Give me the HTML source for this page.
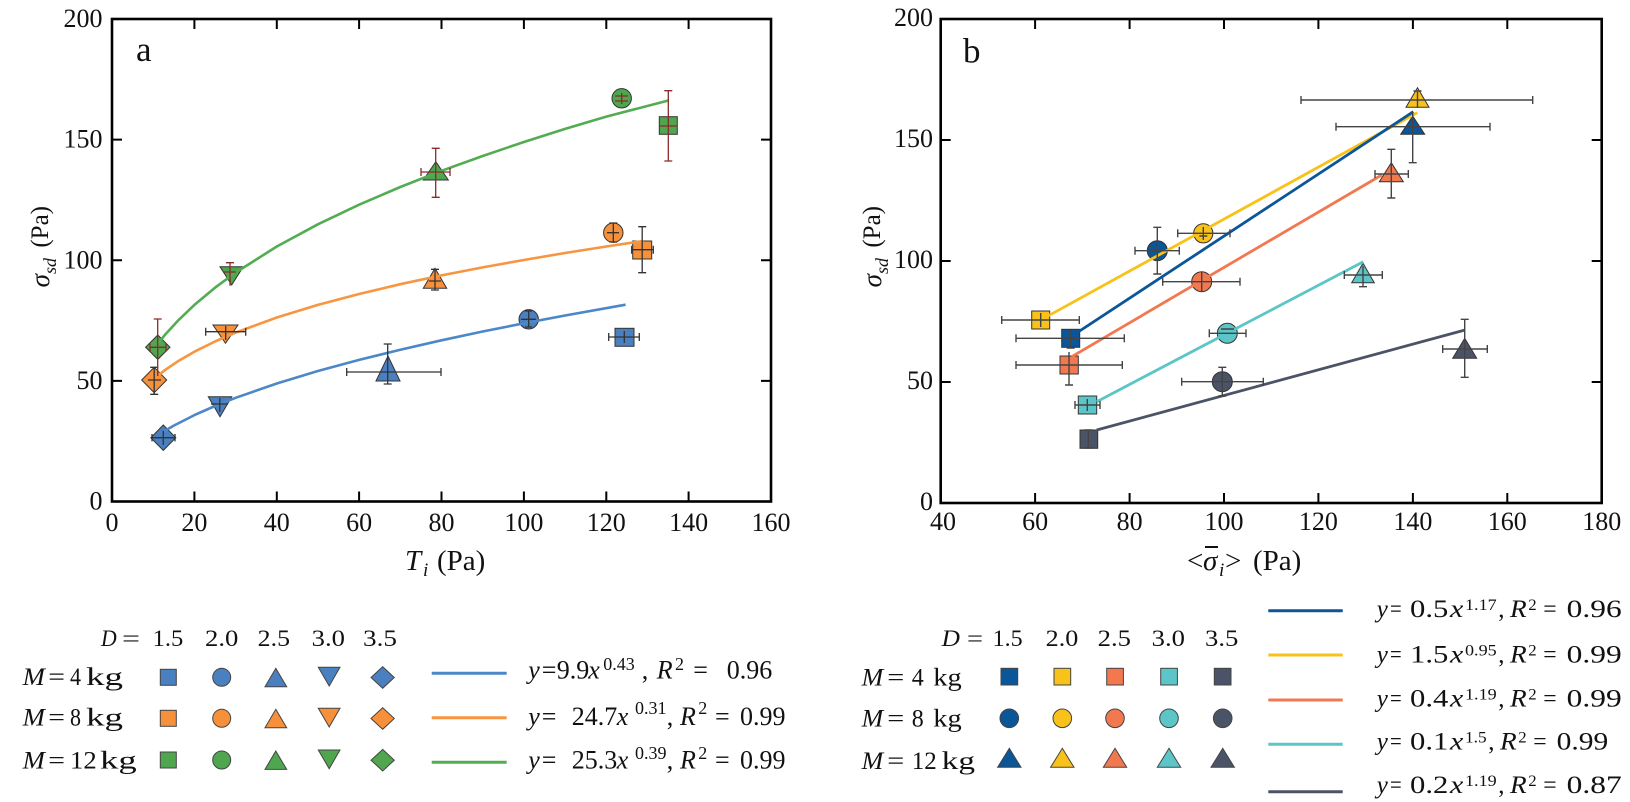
<!DOCTYPE html>
<html><head><meta charset="utf-8"><style>
html,body{margin:0;padding:0;background:#fff;}
svg{display:block;}
text{font-family:"Liberation Serif","DejaVu Serif",serif;fill:#111;}
.i{font-style:italic;}
</style></head><body>
<svg width="1630" height="802" viewBox="0 0 1630 802" xmlns="http://www.w3.org/2000/svg">
<rect width="1630" height="802" fill="#fff"/>

<!-- ================= LEFT PANEL ================= -->
<g stroke="#000" stroke-width="2" fill="none">
<path d="M194.4 501.5V491.5M276.8 501.5V491.5M359.1 501.5V491.5M441.5 501.5V491.5M523.9 501.5V491.5M606.3 501.5V491.5M688.6 501.5V491.5"/>
<path d="M194.4 19V29M276.8 19V29M359.1 19V29M441.5 19V29M523.9 19V29M606.3 19V29M688.6 19V29"/>
<path d="M112 380.9H122M112 260.3H122M112 139.6H122"/>
<path d="M771 380.9H761M771 260.3H761M771 139.6H761"/>
</g>
<rect x="112" y="19" width="659" height="482.5" fill="none" stroke="#000" stroke-width="2.6"/>
<g font-size="26" text-anchor="end">
<text x="102.5" y="509.5">0</text>
<text x="102.5" y="389">50</text>
<text x="102.5" y="268.3">100</text>
<text x="102.5" y="147.6">150</text>
<text x="102.5" y="27">200</text>
</g>
<g font-size="26" text-anchor="middle">
<text x="112" y="531">0</text>
<text x="194.4" y="531">20</text>
<text x="276.8" y="531">40</text>
<text x="359.1" y="531">60</text>
<text x="441.5" y="531">80</text>
<text x="523.9" y="531">100</text>
<text x="606.3" y="531">120</text>
<text x="688.6" y="531">140</text>
<text x="771" y="531">160</text>
</g>
<text x="136" y="61" font-size="35">a</text>
<text x="405" y="570" font-size="29" class="i">T</text>
<text x="423" y="576" font-size="19" class="i">i</text>
<text x="437" y="570" font-size="29">(Pa)</text>
<text transform="translate(48,206) rotate(-90)" text-anchor="end" font-size="25">(Pa)</text>
<text transform="translate(49,258) rotate(-90)" text-anchor="end" font-size="27"><tspan class="i">σ</tspan><tspan class="i" font-size="18" dy="7">sd</tspan></text>

<!-- left markers -->
<g stroke="#333" stroke-width="1">
<polygon points="163.3,425 175.8,437.7 163.3,450.4 150.8,437.7" fill="#4a7fc0"/>
<polygon points="208.3,396.7 231.7,396.7 220,416.7" fill="#4a7fc0"/>
<polygon points="388,356 400,381 376,381" fill="#4a7fc0"/>
<circle cx="528.7" cy="319.3" r="9.7" fill="#4a7fc0"/>
<rect x="615" y="328.3" width="19" height="18" fill="#4a7fc0"/>
<polygon points="154.2,367.3 166.7,380 154.2,392.7 141.7,380" fill="#f7903a"/>
<polygon points="213,325 238,325 225.5,343.3" fill="#f7903a"/>
<polygon points="435,268.3 446.7,288.3 423.3,288.3" fill="#f7903a"/>
<circle cx="613.3" cy="232.7" r="9.7" fill="#f7903a"/>
<rect x="632.7" y="241" width="19" height="18" fill="#f7903a"/>
<polygon points="157.8,335 170,347.2 157.8,359.4 145.6,347.2" fill="#4fa64f"/>
<polygon points="220,266.7 243.3,266.7 231.7,285" fill="#4fa64f"/>
<polygon points="435.8,161.7 448.3,180 423.3,180" fill="#4fa64f"/>
<circle cx="621.7" cy="98.3" r="9.7" fill="#4fa64f"/>
<rect x="659.3" y="116.7" width="18" height="17.6" fill="#4fa64f"/>
</g>

<!-- left curves -->
<g fill="none" stroke-width="2.6" stroke-linejoin="round">
<polyline stroke="#4c87c8" points="164.3,431.1 173.8,425.6 194.4,415.1 215.0,406.0 235.6,397.8 276.8,383.5 317.9,371.0 359.1,359.9 400.3,349.7 441.5,340.3 482.7,331.5 523.9,323.3 565.1,315.5 625.6,304.7"/>
<polyline stroke="#f89540" points="156.5,376.8 165.5,369.7 177.9,361.3 194.4,351.7 215.0,341.5 235.6,332.6 276.8,317.5 317.9,304.9 359.1,294.0 400.3,284.2 441.5,275.4 482.7,267.4 523.9,260.0 565.1,253.0 606.3,246.5 643.3,241.0"/>
<polyline stroke="#52ad52" points="157.7,343.8 165.5,334.2 177.9,320.7 194.4,304.9 215.0,287.7 235.6,272.6 276.8,246.5 317.9,224.3 359.1,204.7 400.3,187.0 441.5,170.8 482.7,156.0 523.9,142.0 565.1,128.9 606.3,116.6 668.4,100.5"/>
</g>

<!-- left error bars -->
<g fill="none" stroke="#333" stroke-width="1.3">
<path d="M152 437.7H175M152 434V441.4M175 434V441.4M163.3 431V445"/>
<path d="M211 404H228M219.8 398V412"/>
<path d="M346.7 372H441M346.7 368V376M441 368V376M387.7 344V384M383.7 344H391.7M383.7 384H391.7"/>
<path d="M521 319.3H536M528.7 311V327M525 311H532M525 327H532"/>
<path d="M608.7 337H639.3M608.7 333V341M639.3 333V341M624.3 331V343"/>
<path d="M148 380H161M154.2 367.3V394.3M150.2 367.3H158.2M150.2 394.3H158.2"/>
<path d="M205.7 331.7H245.7M205.7 327.7V335.7M245.7 327.7V335.7M225.7 326V340"/>
<path d="M429 281H441M435 269.3V290M431 269.3H439M431 290H439"/>
<path d="M607 232.7H619M613.3 223V242M609.3 223H617.3M609.3 242H617.3"/>
<path d="M642.2 226.7V272.7M638.2 226.7H646.2M638.2 272.7H646.2M631.7 249.7H653.3M631.7 245.7V253.7M653.3 245.7V253.7"/>
</g>
<g fill="none" stroke="#8b2a2a" stroke-width="1.3">
<path d="M157.7 319V376M153.7 319H161.7M150 347.3H166M150 343.3V351.3M166 343.3V351.3"/>
<path d="M230 262.7V285.7M226 262.7H234M224 272H236"/>
<path d="M435.7 148.3V197.3M431.7 148.3H439.7M431.7 197.3H439.7M421 172H450M421 168V176M450 168V176"/>
<path d="M615 96H628M615 101H628M621.7 93V104"/>
<path d="M668.3 90.7V161M664.3 90.7H672.3M664.3 161H672.3M660 126H677"/>
</g>

<!-- ================= RIGHT PANEL ================= -->
<g stroke="#000" stroke-width="2" fill="none">
<path d="M1035.1 503V493M1129.6 503V493M1224 503V493M1318.4 503V493M1412.9 503V493M1507.3 503V493"/>
<path d="M1035.1 19V29M1129.6 19V29M1224 19V29M1318.4 19V29M1412.9 19V29M1507.3 19V29"/>
<path d="M940.7 382H950.7M940.7 261H950.7M940.7 140H950.7"/>
<path d="M1601.7 382H1591.7M1601.7 261H1591.7M1601.7 140H1591.7"/>
</g>
<rect x="940.7" y="19" width="661" height="484" fill="none" stroke="#000" stroke-width="2.6"/>
<g font-size="26" text-anchor="end">
<text x="933" y="510">0</text>
<text x="933" y="389">50</text>
<text x="933" y="268">100</text>
<text x="933" y="147">150</text>
<text x="933" y="26">200</text>
</g>
<g font-size="26" text-anchor="middle">
<text x="943" y="530">40</text>
<text x="1035.1" y="530">60</text>
<text x="1129.6" y="530">80</text>
<text x="1224" y="530">100</text>
<text x="1318.4" y="530">120</text>
<text x="1412.9" y="530">140</text>
<text x="1507.3" y="530">160</text>
<text x="1601.7" y="530">180</text>
</g>
<text x="963" y="62.5" font-size="35">b</text>
<text x="1187" y="570" font-size="29">&lt;</text>
<text x="1203" y="570" font-size="29" class="i">σ</text>
<line x1="1205" y1="547" x2="1218" y2="547" stroke="#111" stroke-width="2"/>
<text x="1219" y="576" font-size="19" class="i">i</text>
<text x="1225" y="570" font-size="29">&gt;</text>
<text x="1253" y="570" font-size="29">(Pa)</text>
<text transform="translate(880,206) rotate(-90)" text-anchor="end" font-size="25">(Pa)</text>
<text transform="translate(881,258) rotate(-90)" text-anchor="end" font-size="27"><tspan class="i">σ</tspan><tspan class="i" font-size="18" dy="7">sd</tspan></text>

<!-- right markers -->
<g stroke="#333" stroke-width="1">
<rect x="1031.7" y="311" width="18" height="18" fill="#f8c21a"/>
<rect x="1061.7" y="329.3" width="18" height="18" fill="#0b5599"/>
<rect x="1060" y="356" width="18.3" height="18" fill="#f27850"/>
<rect x="1078.3" y="396" width="18.4" height="18" fill="#5cc5c7"/>
<rect x="1080" y="430" width="17.7" height="18.3" fill="#4b5467"/>
<circle cx="1157.3" cy="250.7" r="10" fill="#0b5599"/>
<circle cx="1203.3" cy="233.3" r="9.6" fill="#f8c21a"/>
<circle cx="1201.7" cy="281.7" r="10" fill="#f27850"/>
<circle cx="1227.3" cy="333.3" r="10" fill="#5cc5c7"/>
<circle cx="1222.3" cy="381.7" r="10" fill="#4b5467"/>
<polygon points="1417.5,87.7 1429,107.3 1406,107.3" fill="#f8c21a"/>
<polygon points="1412.7,116 1424.7,134.3 1400.7,134.3" fill="#0b5599"/>
<polygon points="1391.3,162.7 1403.3,181.7 1379.3,181.7" fill="#f27850"/>
<polygon points="1363,263.3 1374.3,282.7 1351.7,282.7" fill="#5cc5c7"/>
<polygon points="1464.7,338.3 1476.7,358.3 1452.7,358.3" fill="#4b5467"/>
</g>

<!-- right lines -->
<g fill="none" stroke-width="2.8">
<line x1="1046.7" y1="316.7" x2="1417.3" y2="112.7" stroke="#f8c21a"/>
<line x1="1072" y1="336" x2="1413.3" y2="111.7" stroke="#0b5599"/>
<line x1="1071.7" y1="356.7" x2="1381.7" y2="175" stroke="#f27850"/>
<line x1="1096.7" y1="401.7" x2="1363.3" y2="261.7" stroke="#5cc5c7"/>
<line x1="1096.7" y1="430" x2="1465" y2="330" stroke="#4b5467"/>
</g>

<!-- right error bars -->
<g fill="none" stroke="#444" stroke-width="1.4">
<path d="M1001.7 320H1079.3M1001.7 316V324M1079.3 316V324M1040.7 313V327"/>
<path d="M1016 338.3H1124.3M1016 334.3V342.3M1124.3 334.3V342.3M1070.7 330V348M1066.7 348H1074.7"/>
<path d="M1016 365H1122.3M1016 361V369M1122.3 361V369M1069 352V385M1065 385H1073"/>
<path d="M1075 405H1100M1075 401V409M1100 401V409M1087.3 399V411"/>
<path d="M1088.3 430V448M1084.3 430H1092.3M1084.3 448H1092.3"/>
<path d="M1157.3 227.3V274M1153.3 227.3H1161.3M1153.3 274H1161.3M1135 250.7H1179.3M1135 246.7V254.7M1179.3 246.7V254.7"/>
<path d="M1177.7 233.3H1230M1177.7 229.3V237.3M1230 229.3V237.3M1203.3 227V240M1199.3 236H1207.3"/>
<path d="M1162.7 281.7H1240M1162.7 277.7V285.7M1240 277.7V285.7M1201.7 272V291"/>
<path d="M1209.3 333.3H1246M1209.3 329.3V337.3M1246 329.3V337.3M1221 329H1234"/>
<path d="M1181.7 381.7H1263.3M1181.7 377.7V385.7M1263.3 377.7V385.7M1222.3 367.3V396M1218.3 367.3H1226.3M1218.3 396H1226.3"/>
<path d="M1301 100H1532.7M1301 96V104M1532.7 96V104M1417.5 91V108M1413.5 91H1421.5"/>
<path d="M1336 126.7H1490M1336 122.7V130.7M1490 122.7V130.7M1412.7 112V162.7M1408.7 162.7H1416.7"/>
<path d="M1391.3 149.3V198M1387.3 149.3H1395.3M1387.3 198H1395.3M1375 174H1408.3M1375 170V178M1408.3 170V178"/>
<path d="M1344.3 275H1382.3M1344.3 271V279M1382.3 271V279M1363 266V286.7M1359 286.7H1367"/>
<path d="M1464.7 319.3V377.3M1460.7 319.3H1468.7M1460.7 377.3H1468.7M1442.7 349H1487.3M1442.7 345V353M1487.3 345V353"/>
</g>

<!-- ================= LEFT LEGEND ================= -->
<g font-size="23">
<text x="101" y="646" class="i" textLength="15.7" lengthAdjust="spacingAndGlyphs">D</text>
<text x="122" y="646" textLength="18" lengthAdjust="spacingAndGlyphs">=</text>
<text x="152.7" y="646" textLength="30.6" lengthAdjust="spacingAndGlyphs">1.5</text>
<text x="205" y="646" textLength="33.3" lengthAdjust="spacingAndGlyphs">2.0</text>
<text x="257.7" y="646" textLength="32.3" lengthAdjust="spacingAndGlyphs">2.5</text>
<text x="311.7" y="646" textLength="33.3" lengthAdjust="spacingAndGlyphs">3.0</text>
<text x="363" y="646" textLength="34" lengthAdjust="spacingAndGlyphs">3.5</text>
</g>
<g font-size="25">
<text x="22.7" y="685" class="i" textLength="22.3" lengthAdjust="spacingAndGlyphs">M</text>
<text x="48.3" y="685" textLength="16.7" lengthAdjust="spacingAndGlyphs">=</text>
<text x="70" y="685" textLength="11" lengthAdjust="spacingAndGlyphs">4</text>
<text x="86" y="685" textLength="37" lengthAdjust="spacingAndGlyphs">kg</text>
<text x="22.7" y="725.7" class="i" textLength="22.3" lengthAdjust="spacingAndGlyphs">M</text>
<text x="48.3" y="725.7" textLength="16.7" lengthAdjust="spacingAndGlyphs">=</text>
<text x="70" y="725.7" textLength="11" lengthAdjust="spacingAndGlyphs">8</text>
<text x="86" y="725.7" textLength="37" lengthAdjust="spacingAndGlyphs">kg</text>
<text x="22.7" y="768.3" class="i" textLength="22.3" lengthAdjust="spacingAndGlyphs">M</text>
<text x="48.3" y="768.3" textLength="16.7" lengthAdjust="spacingAndGlyphs">=</text>
<text x="70" y="768.3" textLength="26.7" lengthAdjust="spacingAndGlyphs">12</text>
<text x="100" y="768.3" textLength="36.7" lengthAdjust="spacingAndGlyphs">kg</text>
</g>
<g stroke="#444" stroke-width="1">
<g fill="#4a7fc0">
<rect x="160.3" y="669.3" width="16" height="16"/>
<circle cx="221.7" cy="677.3" r="9"/>
<polygon points="275.8,668.3 286.7,686.7 265,686.7"/>
<polygon points="318.3,667.3 340,667.3 329.2,686"/>
<polygon points="382.7,666.7 394.3,677.5 382.7,688.3 371,677.5"/>
</g>
<g fill="#f7903a" transform="translate(0,41)">
<rect x="160.3" y="669.3" width="16" height="16"/>
<circle cx="221.7" cy="677.3" r="9"/>
<polygon points="275.8,668.3 286.7,686.7 265,686.7"/>
<polygon points="318.3,667.3 340,667.3 329.2,686"/>
<polygon points="382.7,666.7 394.3,677.5 382.7,688.3 371,677.5"/>
</g>
<g fill="#4fa64f" transform="translate(0,82.7)">
<rect x="160.3" y="669.3" width="16" height="16"/>
<circle cx="221.7" cy="677.3" r="9"/>
<polygon points="275.8,668.3 286.7,686.7 265,686.7"/>
<polygon points="318.3,667.3 340,667.3 329.2,686"/>
<polygon points="382.7,666.7 394.3,677.5 382.7,688.3 371,677.5"/>
</g>
</g>
<g stroke-width="3">
<line x1="431.7" y1="673.3" x2="506.7" y2="673.3" stroke="#4c87c8"/>
<line x1="431.7" y1="717.7" x2="506.7" y2="717.7" stroke="#f89540"/>
<line x1="431.7" y1="762.3" x2="506.7" y2="762.3" stroke="#52ad52"/>
</g>
<g font-size="26">
<text y="678.3"><tspan x="528.3" class="i">y</tspan><tspan x="541.7">=</tspan><tspan x="556.7">9.9</tspan><tspan x="588.3" class="i">x</tspan><tspan x="603.3" y="670" font-size="18">0.43</tspan><tspan x="641.7" y="678.3">,</tspan><tspan x="656.7" class="i">R</tspan><tspan x="675" y="670" font-size="18">2</tspan><tspan x="693.3" y="678.3">=</tspan><tspan x="726.7">0.96</tspan></text>
<text y="725"><tspan x="528.3" class="i">y</tspan><tspan x="541.7">=</tspan><tspan x="571.7">24.7</tspan><tspan x="616.7" class="i">x</tspan><tspan x="635" y="714" font-size="18">0.31</tspan><tspan x="666.7" y="725">,</tspan><tspan x="680" class="i">R</tspan><tspan x="698.3" y="714" font-size="18">2</tspan><tspan x="715" y="725">=</tspan><tspan x="740">0.99</tspan></text>
<text y="768.3"><tspan x="528.3" class="i">y</tspan><tspan x="541.7">=</tspan><tspan x="571.7">25.3</tspan><tspan x="616.7" class="i">x</tspan><tspan x="635" y="759" font-size="18">0.39</tspan><tspan x="666.7" y="768.3">,</tspan><tspan x="680" class="i">R</tspan><tspan x="698.3" y="759" font-size="18">2</tspan><tspan x="715" y="768.3">=</tspan><tspan x="740">0.99</tspan></text>
</g>

<!-- ================= RIGHT LEGEND ================= -->
<g font-size="23">
<text x="941.7" y="646" class="i" textLength="18.3" lengthAdjust="spacingAndGlyphs">D</text>
<text x="967" y="646" textLength="16" lengthAdjust="spacingAndGlyphs">=</text>
<text x="992.7" y="646" textLength="30" lengthAdjust="spacingAndGlyphs">1.5</text>
<text x="1045.7" y="646" textLength="32.6" lengthAdjust="spacingAndGlyphs">2.0</text>
<text x="1097.7" y="646" textLength="33.3" lengthAdjust="spacingAndGlyphs">2.5</text>
<text x="1151.7" y="646" textLength="33.3" lengthAdjust="spacingAndGlyphs">3.0</text>
<text x="1205" y="646" textLength="33.3" lengthAdjust="spacingAndGlyphs">3.5</text>
</g>
<g font-size="25">
<text x="861.7" y="685.7" class="i" textLength="21.6" lengthAdjust="spacingAndGlyphs">M</text>
<text x="887.3" y="685.7" textLength="17" lengthAdjust="spacingAndGlyphs">=</text>
<text x="911.7" y="685.7" textLength="12" lengthAdjust="spacingAndGlyphs">4</text>
<text x="933.3" y="685.7" textLength="28.4" lengthAdjust="spacingAndGlyphs">kg</text>
<text x="861.7" y="726.7" class="i" textLength="21.6" lengthAdjust="spacingAndGlyphs">M</text>
<text x="887.3" y="726.7" textLength="17" lengthAdjust="spacingAndGlyphs">=</text>
<text x="911.7" y="726.7" textLength="12" lengthAdjust="spacingAndGlyphs">8</text>
<text x="933.3" y="726.7" textLength="28.4" lengthAdjust="spacingAndGlyphs">kg</text>
<text x="861.7" y="769" class="i" textLength="21.6" lengthAdjust="spacingAndGlyphs">M</text>
<text x="887.3" y="769" textLength="17" lengthAdjust="spacingAndGlyphs">=</text>
<text x="911.7" y="769" textLength="25" lengthAdjust="spacingAndGlyphs">12</text>
<text x="941.7" y="769" textLength="33.3" lengthAdjust="spacingAndGlyphs">kg</text>
</g>
<g stroke="#444" stroke-width="1">
<rect x="1001" y="668.3" width="16.7" height="16.7" fill="#0b5599"/>
<rect x="1054" y="668.3" width="16.7" height="16.7" fill="#f8c21a"/>
<rect x="1106.7" y="668.3" width="16.7" height="16.7" fill="#f27850"/>
<rect x="1160.7" y="668.3" width="16.7" height="16.7" fill="#5cc5c7"/>
<rect x="1214.3" y="668.3" width="16.7" height="16.7" fill="#4b5467"/>
<circle cx="1009.3" cy="718.3" r="9.3" fill="#0b5599"/>
<circle cx="1062.3" cy="718.3" r="9.3" fill="#f8c21a"/>
<circle cx="1115" cy="718.3" r="9.3" fill="#f27850"/>
<circle cx="1169" cy="718.3" r="9.3" fill="#5cc5c7"/>
<circle cx="1222.7" cy="718.3" r="9.3" fill="#4b5467"/>
<polygon points="1009.3,748.3 1021,767.3 997.6,767.3" fill="#0b5599"/>
<polygon points="1062.3,748.3 1074,767.3 1050.6,767.3" fill="#f8c21a"/>
<polygon points="1115,748.3 1126.7,767.3 1103.3,767.3" fill="#f27850"/>
<polygon points="1169,748.3 1180.7,767.3 1157.3,767.3" fill="#5cc5c7"/>
<polygon points="1222.7,748.3 1234.4,767.3 1211,767.3" fill="#4b5467"/>
</g>
<g stroke-width="3">
<line x1="1268.3" y1="610.7" x2="1342.7" y2="610.7" stroke="#0b5599"/>
<line x1="1268.3" y1="655" x2="1342.7" y2="655" stroke="#f8c21a"/>
<line x1="1268.3" y1="700" x2="1342.7" y2="700" stroke="#f27850"/>
<line x1="1268.3" y1="744.3" x2="1342.7" y2="744.3" stroke="#5cc5c7"/>
<line x1="1268.3" y1="791.7" x2="1342.7" y2="791.7" stroke="#4b5467"/>
</g>
<g font-size="25">
<text x="1376.7" y="617" class="i">y</text>
<text x="1390" y="617" textLength="11.7" lengthAdjust="spacingAndGlyphs">=</text>
<text x="1410" y="617" textLength="38.3" lengthAdjust="spacingAndGlyphs">0.5</text>
<text x="1450" y="617" class="i" textLength="13.3" lengthAdjust="spacingAndGlyphs">x</text>
<text x="1465" y="610" font-size="16" textLength="31.7" lengthAdjust="spacingAndGlyphs">1.17</text>
<text x="1498.3" y="617">,</text>
<text x="1510" y="617" class="i" textLength="16.7" lengthAdjust="spacingAndGlyphs">R</text>
<text x="1528.3" y="610" font-size="16" textLength="8.4" lengthAdjust="spacingAndGlyphs">2</text>
<text x="1543.3" y="617" textLength="13.4" lengthAdjust="spacingAndGlyphs">=</text>
<text x="1566.7" y="617" textLength="55" lengthAdjust="spacingAndGlyphs">0.96</text>

<text x="1376.7" y="662.5" class="i">y</text>
<text x="1390" y="662.5" textLength="11.7" lengthAdjust="spacingAndGlyphs">=</text>
<text x="1410" y="662.5" textLength="38.3" lengthAdjust="spacingAndGlyphs">1.5</text>
<text x="1450" y="662.5" class="i" textLength="13.3" lengthAdjust="spacingAndGlyphs">x</text>
<text x="1465" y="655.5" font-size="16" textLength="31.7" lengthAdjust="spacingAndGlyphs">0.95</text>
<text x="1498.3" y="662.5">,</text>
<text x="1510" y="662.5" class="i" textLength="16.7" lengthAdjust="spacingAndGlyphs">R</text>
<text x="1528.3" y="655.5" font-size="16" textLength="8.4" lengthAdjust="spacingAndGlyphs">2</text>
<text x="1543.3" y="662.5" textLength="13.4" lengthAdjust="spacingAndGlyphs">=</text>
<text x="1566.7" y="662.5" textLength="55" lengthAdjust="spacingAndGlyphs">0.99</text>

<text x="1376.7" y="706.5" class="i">y</text>
<text x="1390" y="706.5" textLength="11.7" lengthAdjust="spacingAndGlyphs">=</text>
<text x="1410" y="706.5" textLength="38.3" lengthAdjust="spacingAndGlyphs">0.4</text>
<text x="1450" y="706.5" class="i" textLength="13.3" lengthAdjust="spacingAndGlyphs">x</text>
<text x="1465" y="699.5" font-size="16" textLength="31.7" lengthAdjust="spacingAndGlyphs">1.19</text>
<text x="1498.3" y="706.5">,</text>
<text x="1510" y="706.5" class="i" textLength="16.7" lengthAdjust="spacingAndGlyphs">R</text>
<text x="1528.3" y="699.5" font-size="16" textLength="8.4" lengthAdjust="spacingAndGlyphs">2</text>
<text x="1543.3" y="706.5" textLength="13.4" lengthAdjust="spacingAndGlyphs">=</text>
<text x="1566.7" y="706.5" textLength="55" lengthAdjust="spacingAndGlyphs">0.99</text>

<text x="1376.7" y="749.5" class="i">y</text>
<text x="1390" y="749.5" textLength="11.7" lengthAdjust="spacingAndGlyphs">=</text>
<text x="1410" y="749.5" textLength="38.3" lengthAdjust="spacingAndGlyphs">0.1</text>
<text x="1450" y="749.5" class="i" textLength="13.3" lengthAdjust="spacingAndGlyphs">x</text>
<text x="1465" y="742.5" font-size="16" textLength="21.7" lengthAdjust="spacingAndGlyphs">1.5</text>
<text x="1488.3" y="749.5">,</text>
<text x="1500" y="749.5" class="i" textLength="16.7" lengthAdjust="spacingAndGlyphs">R</text>
<text x="1518.3" y="742.5" font-size="16" textLength="8.4" lengthAdjust="spacingAndGlyphs">2</text>
<text x="1533.3" y="749.5" textLength="13.4" lengthAdjust="spacingAndGlyphs">=</text>
<text x="1556.7" y="749.5" textLength="51.6" lengthAdjust="spacingAndGlyphs">0.99</text>

<text x="1376.7" y="793" class="i">y</text>
<text x="1390" y="793" textLength="11.7" lengthAdjust="spacingAndGlyphs">=</text>
<text x="1410" y="793" textLength="38.3" lengthAdjust="spacingAndGlyphs">0.2</text>
<text x="1450" y="793" class="i" textLength="13.3" lengthAdjust="spacingAndGlyphs">x</text>
<text x="1465" y="786" font-size="16" textLength="31.7" lengthAdjust="spacingAndGlyphs">1.19</text>
<text x="1498.3" y="793">,</text>
<text x="1510" y="793" class="i" textLength="16.7" lengthAdjust="spacingAndGlyphs">R</text>
<text x="1528.3" y="786" font-size="16" textLength="8.4" lengthAdjust="spacingAndGlyphs">2</text>
<text x="1543.3" y="793" textLength="13.4" lengthAdjust="spacingAndGlyphs">=</text>
<text x="1566.7" y="793" textLength="55" lengthAdjust="spacingAndGlyphs">0.87</text>
</g>
</svg>
</body></html>
